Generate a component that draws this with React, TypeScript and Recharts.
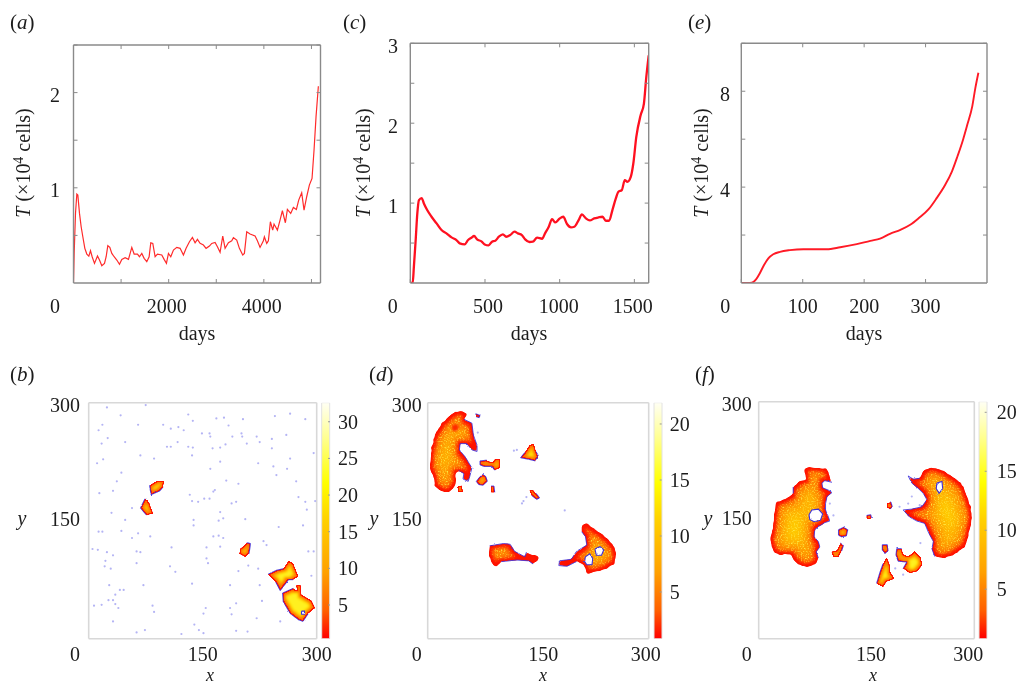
import React from "react";
import { LineChart, Line, ScatterChart, Scatter, BarChart, Bar, XAxis, YAxis } from "recharts";

// ---------- time series (days, T in 10^4 cells) ----------
const seriesA: [number, number][] = [[0,0],[14,.311],[42,.731],[70,.934],[91,.923],[126,.731],[161,.591],[196,.486],[238,.364],[280,.304],[322,.283],[357,.339],[392,.276],[441,.206],[504,.283],[546,.241],[595,.182],[651,.206],[686,.276],[721,.392],[763,.374],[805,.311],[854,.276],[910,.241],[966,.196],[1015,.248],[1085,.266],[1155,.248],[1225,.374],[1274,.304],[1344,.304],[1386,.276],[1435,.311],[1484,.259],[1540,.224],[1589,.276],[1624,.423],[1666,.416],[1715,.276],[1764,.304],[1855,.294],[1904,.248],[1953,.206],[1995,.311],[2044,.276],[2100,.346],[2170,.374],[2240,.364],[2310,.294],[2366,.364],[2436,.434],[2499,.479],[2555,.423],[2604,.458],[2660,.416],[2730,.399],[2786,.364],[2856,.388],[2905,.416],[2975,.427],[3024,.381],[3080,.322],[3136,.493],[3185,.364],[3255,.423],[3325,.444],[3360,.476],[3430,.451],[3486,.364],[3556,.294],[3591,.311],[3640,.538],[3710,.514],[3815,.493],[3864,.444],[3920,.374],[3990,.444],[4011,.486],[4060,.416],[4095,.444],[4137,.643],[4186,.556],[4214,.619],[4284,.556],[4340,.661],[4389,.759],[4452,.633],[4494,.773],[4564,.731],[4620,.794],[4683,.773],[4732,.871],[4795,.948],[4844,.766],[4900,.906],[4956,1.028],[5012,1.098],[5054,1.395],[5096,1.745],[5145,2.066]];
const seriesC: [number, number][] = [[0,0],[16,0],[24,.204],[36,.538],[47,.871],[58,1.038],[76,1.063],[91,.996],[113,.913],[142,.829],[176,.746],[209,.663],[242,.621],[276,.571],[309,.538],[331,.496],[364,.483],[387,.538],[409,.567],[427,.588],[447,.546],[476,.521],[498,.483],[524,.471],[547,.517],[569,.529],[593,.579],[620,.608],[642,.579],[669,.6],[698,.642],[720,.621],[747,.6],[769,.546],[798,.513],[820,.517],[849,.567],[882,.554],[902,.621],[927,.704],[949,.8],[971,.758],[998,.804],[1024,.829],[1049,.738],[1076,.696],[1098,.704],[1127,.788],[1149,.858],[1176,.808],[1202,.783],[1231,.808],[1260,.821],[1287,.829],[1309,.779],[1331,.779],[1353,.913],[1376,1.058],[1393,1.142],[1416,1.163],[1436,1.288],[1453,1.267],[1476,1.329],[1493,1.496],[1513,1.829],[1542,2.1],[1564,2.246],[1580,2.579],[1596,2.85]];
const seriesE: [number, number][] = [[0,0],[11,0],[17,.01],[24,.15],[30,.4],[37,.75],[44,1.03],[52,1.2],[63,1.3],[79,1.37],[101,1.41],[117,1.41],[139,1.41],[161,1.49],[188,1.62],[210,1.76],[226,1.85],[242,2.05],[259,2.22],[275,2.43],[289,2.71],[305,3.08],[318,3.54],[332,4.1],[343,4.66],[352,5.29],[361,5.98],[368,6.61],[376,7.37],[381,8.13],[386,8.77]];

const aXTicks = [0, 1000, 2000, 3000, 4000, 5000];
const aXLabels = [0, 2000, 4000];
const aYTicks = [0.5, 1, 1.5, 2, 2.5];
const aYLabels = [1, 2];
const cXTicks = [0, 500, 1000, 1500];
const cYTicks = [0.5, 1, 1.5, 2, 2.5, 3];
const cYLabels = [1, 2, 3];
const eXTicks = [0, 100, 200, 300];
const eYTicks = [2, 4, 6, 8, 10];
const eYLabels = [4, 8];
const gridTicks = [0, 150, 300];
const gridYLabels = [150, 300];
const barBTicks = [5, 10, 15, 20, 25, 30];
const barTicks = [5, 10, 15, 20];

// ---------- tumour cell map outlines, (x, y) lattice sites ----------
type P = [number, number];
const bSpot1: P[] = [[80,195],[89,200],[99,200],[98,193],[94,188],[82,183]];
const bSpot2: P[] = [[74,178],[79,175],[82,166],[85,159],[76,157],[68,166]];
const bSpot3: P[] = [[208,122],[213,121],[211,108],[206,104],[198,108],[200,115]];
const bSpot4: P[] = [[236,82],[247,87],[256,89],[263,99],[269,96],[276,79],[269,75],[263,75],[256,66],[252,61],[246,72]];
const bSpot5: P[] = [[255,58],[269,64],[274,61],[273,68],[279,68],[280,56],[293,49],[298,39],[289,32],[282,22],[276,24],[265,32],[256,47]];
const bHole1: P[] = [[280,35],[284,35],[284,31],[280,31]];
const bDots: P[] = [[24,294],[75,297],[42,284],[18,272],[13,265],[25,255],[17,248],[48,250],[65,272],[98,272],[108,267],[118,269],[125,265],[131,285],[137,277],[168,280],[178,281],[203,279],[245,283],[265,286],[285,279],[184,271],[149,261],[159,261],[160,257],[201,261],[189,257],[202,257],[221,257],[241,254],[260,259],[103,244],[108,244],[117,250],[131,244],[137,243],[163,242],[173,243],[180,247],[208,248],[225,250],[241,242],[296,236],[11,223],[19,228],[68,233],[86,229],[136,233],[160,216],[173,225],[223,223],[243,219],[261,216],[265,229],[247,208],[43,211],[37,200],[32,188],[14,185],[273,200],[181,201],[197,197],[164,187],[166,189],[133,183],[136,175],[144,174],[152,178],[159,178],[188,172],[194,174],[276,180],[285,174],[298,175],[287,164],[30,160],[57,166],[48,151],[173,161],[177,153],[171,150],[206,152],[138,151],[138,144],[282,144],[250,142],[13,136],[18,136],[43,137],[57,128],[65,134],[81,130],[164,130],[171,131],[177,128],[230,124],[234,119],[210,121],[5,114],[12,113],[24,110],[32,106],[63,111],[68,110],[109,116],[155,116],[173,117],[289,111],[296,111],[22,99],[29,89],[21,92],[63,96],[107,92],[114,85],[155,102],[157,96],[210,93],[223,89],[197,86],[293,80],[27,68],[41,62],[46,62],[35,56],[72,68],[136,70],[186,68],[225,68],[258,56],[7,42],[17,43],[26,49],[32,49],[35,44],[39,39],[84,42],[86,34],[154,39],[151,32],[186,39],[188,31],[194,45],[228,48],[32,22],[139,18],[63,8],[74,11],[122,6],[145,11],[151,7],[194,10],[209,9],[221,26],[252,22]];

const dBigLeft: P[] = [[37,288],[46,289],[54,286],[49,279],[60,274],[62,259],[67,246],[67,238],[60,240],[53,248],[44,248],[43,240],[51,231],[60,217],[57,206],[55,200],[48,203],[49,210],[42,214],[37,209],[39,200],[35,191],[28,186],[17,188],[10,193],[8,206],[3,214],[5,240],[10,261],[19,274],[28,282]];
const dRedPatch: P[] = [[33,272],[40,273],[43,268],[38,263],[33,265]];
const dBit1: P[] = [[65,286],[71,284],[70,281],[66,282]];
const dBit2: P[] = [[40,193],[46,195],[48,187],[42,186]];
const dIsle1: P[] = [[71,226],[80,227],[87,224],[91,228],[98,228],[98,217],[91,214],[87,219],[76,219],[71,221]];
const dIsle2: P[] = [[75,209],[79,206],[81,200],[75,195],[69,196],[66,200],[70,205]];
const dIsle3: P[] = [[86,194],[90,194],[91,186],[86,186]];
const dIsle4: P[] = [[138,246],[144,248],[147,238],[150,233],[146,226],[137,228],[126,230],[132,237]];
const dIsle5: P[] = [[138,189],[143,189],[147,185],[152,179],[148,177],[141,182]];
const dMiddle: P[] = [[84,118],[103,121],[112,120],[118,111],[132,104],[134,110],[140,107],[150,105],[150,100],[143,95],[137,99],[121,100],[100,98],[94,91],[88,94],[83,106]];
const dRight: P[] = [[209,144],[216,147],[225,140],[238,132],[250,121],[256,111],[254,96],[243,89],[227,85],[216,82],[212,94],[202,98],[189,92],[178,93],[179,99],[195,101],[202,111],[216,119],[214,130],[209,136]];
const dHole1: P[] = [[227,114],[234,117],[239,113],[236,106],[229,106]];
const dHole2: P[] = [[214,104],[220,108],[224,102],[223,94],[216,94],[213,98]];
const dDots: P[] = [[121,240],[117,239],[130,175],[134,180],[186,163],[128,172],[147,232],[68,262]];

const fLeft: P[] = [[63,216],[71,217],[83,216],[95,215],[98,209],[99,203],[102,198],[92,200],[88,197],[89,191],[97,188],[102,185],[95,180],[93,171],[93,163],[97,154],[99,149],[92,147],[85,143],[78,138],[77,129],[83,123],[85,116],[80,110],[83,102],[80,95],[69,91],[60,92],[51,97],[46,104],[43,108],[30,106],[21,110],[18,119],[16,127],[20,140],[21,152],[24,173],[39,177],[48,184],[48,192],[57,200],[67,201],[64,209]];
const fLeftHole: P[] = [[70,157],[74,163],[83,164],[89,158],[86,150],[77,148],[71,151]];
const fRight: P[] = [[229,213],[241,217],[257,213],[268,206],[282,197],[289,182],[296,163],[296,148],[292,131],[287,116],[271,106],[257,102],[245,104],[241,114],[243,123],[236,135],[231,146],[220,149],[210,154],[201,163],[213,164],[227,167],[234,176],[229,184],[220,192],[213,197],[208,206],[215,202],[224,203]];
const fRightHole: P[] = [[248,197],[255,199],[256,190],[251,184],[247,190]];
const fSpot1: P[] = [[178,171],[184,173],[186,167],[183,164],[178,166]];
const fSpot2: P[] = [[150,156],[156,157],[157,153],[154,151],[150,152]];
const fRing: P[] = [[111,138],[118,141],[124,138],[122,130],[115,129],[111,131]];
const fSpot3: P[] = [[114,121],[118,118],[115,110],[111,103],[104,103],[101,110],[109,112]];
const fSpot4: P[] = [[172,119],[179,119],[180,111],[176,108],[172,112]];
const fSpike: P[] = [[178,103],[182,95],[183,85],[189,76],[178,72],[173,65],[164,70],[169,85],[173,95]];
const fPair: P[] = [[192,114],[199,114],[201,107],[208,104],[217,111],[225,104],[228,93],[220,85],[210,83],[201,89],[206,97],[194,98],[191,106]];
const fDots: P[] = [[99,171],[104,156],[208,171],[213,180],[190,89],[196,106],[201,81],[224,169],[196,167],[225,121]];

const pts = (list: P[]) => list.map(([x, y]) => ({ x, y }));
const closed = (list: P[]) => pts([...list, list[0]]);

const SERIF = "'Liberation Serif', 'Times New Roman', serif";
const INK = "#1c1c1c";
const NoDot = () => <g />;
const Speck = ({ cx, cy }: any) => <circle cx={cx} cy={cy} r={1.1} fill="#b4b4f4" />;

type TickProps = any;
const makeTick = (side: "bottom" | "top" | "left" | "right", labels: number[], at: Record<number, number>, opts: { len?: number; base?: number; lx?: number; color?: string; dy?: Record<number, number> } = {}) =>
  ({ x, y, payload }: TickProps) => {
    const v = payload.value;
    const len = opts.len ?? 4;
    const c = opts.color ?? "#8a8a8a";
    const line = len === 0 ? null
      : side === "bottom" ? <line x1={x} x2={x} y1={y} y2={y - len} stroke={c} />
      : side === "top" ? <line x1={x} x2={x} y1={y} y2={y + len} stroke={c} />
      : side === "left" ? <line x1={x} x2={x + len} y1={y} y2={y} stroke={c} />
      : <line x1={x} x2={x - len} y1={y} y2={y} stroke={c} />;
    let label = null;
    if (labels.includes(v)) {
      if (side === "bottom") {
        label = <text x={x + (at[v] ?? 0)} y={y + (opts.base ?? 29.5)} textAnchor="middle" fontFamily={SERIF} fontSize={20} fill={INK}>{v}</text>;
      } else if (side === "left") {
        label = <text x={opts.lx} y={y + (opts.dy?.[v] ?? 9.5)} textAnchor="middle" fontFamily={SERIF} fontSize={20} fill={INK}>{v}</text>;
      } else if (side === "right") {
        label = <text x={x + (opts.lx ?? 8)} y={y + (opts.dy?.[v] ?? 7)} textAnchor="start" fontFamily={SERIF} fontSize={20} fill={INK}>{v}</text>;
      }
    }
    return <g>{line}{label}</g>;
  };

const Letter = ({ x, y, ch }: { x: number; y: number; ch: string }) => (
  <text x={x} y={y} fontFamily={SERIF} fontSize={21} fill={INK}>(<tspan fontStyle="italic">{ch}</tspan>)</text>
);
const YTitle = ({ x, y }: { x: number; y: number }) => (
  <text x={x} y={y} transform={`rotate(-90 ${x} ${y})`} textAnchor="middle" fontFamily={SERIF} fontSize={20} fill={INK}>
    <tspan fontStyle="italic">T</tspan> (×10<tspan dy={-7} fontSize={14}>4</tspan><tspan dy={7}> cells)</tspan>
  </text>
);
const Plain = ({ x, y, children, italic, size }: any) => (
  <text x={x} y={y} textAnchor="middle" fontFamily={SERIF} fontSize={size ?? 20} fontStyle={italic ? "italic" : "normal"} fill={INK}>{children}</text>
);

const W = 1020, H = 685;
const boxStyle: React.CSSProperties = { position: "absolute", left: 0, top: 0 };
// Every axis takes 1px of the chart, so each margin gives that pixel back.
const marginFor = (p: any) => ({ left: p.l - 1, top: p.t - 1, right: W - p.r - 1, bottom: H - p.b - 1 });

function TimePanel(p: any) {
  const data = p.series.map(([day, value]: number[]) => ({ day, value }));
  const line = { stroke: "#8a8a8a", strokeWidth: 1.4 };
  return (
    <div style={boxStyle}>
      <LineChart width={W} height={H} data={data} margin={marginFor(p)} style={{ position: "absolute" }}>
        <XAxis dataKey="day" type="number" domain={p.xDomain} ticks={p.xTicks} interval={0} height={1} tickSize={0} tickMargin={0} tickLine={false} allowDataOverflow axisLine={line} tick={makeTick("bottom", p.xLabels, p.xNudge)} />
        <XAxis xAxisId="top" orientation="top" dataKey="day" type="number" domain={p.xDomain} ticks={p.xTicks} interval={0} height={1} tickSize={0} tickMargin={0} tickLine={false} allowDataOverflow axisLine={line} tick={makeTick("top", [], {})} />
        <YAxis type="number" domain={p.yDomain} ticks={p.yTicks} interval={0} width={1} tickSize={0} tickMargin={0} tickLine={false} allowDataOverflow axisLine={line} tick={makeTick("left", p.yLabels, {}, { lx: p.lx })} />
        <YAxis yAxisId="right" orientation="right" type="number" domain={p.yDomain} ticks={p.yTicks} interval={0} width={1} tickSize={0} tickMargin={0} tickLine={false} allowDataOverflow axisLine={line} tick={makeTick("right", [], {})} />
        <Line dataKey="value" type={p.curve} stroke={p.color} strokeWidth={p.sw} dot={false} isAnimationActive={false} />
        <Letter x={p.letter[0]} y={p.letter[1]} ch={p.letter[2]} />
        <YTitle x={p.titleX} y={163} />
        <Plain x={p.daysX} y={340}>days</Plain>
      </LineChart>
    </div>
  );
}

function Heat({ list, big }: { list: P[]; big?: boolean }) {
  const f = big ? "url(#heatL)" : "url(#heatS)";
  return <Scatter data={pts(list)} dataKey="y" shape={NoDot} isAnimationActive={false} line={{ fill: "#f00", stroke: "none", style: { filter: f } } as any} />;
}
function Hole({ list }: { list: P[] }) {
  return <Scatter data={closed(list)} dataKey="y" shape={NoDot} isAnimationActive={false} line={{ fill: "#fff", stroke: "#3d30da", strokeWidth: 1.1, style: { filter: "url(#roughEdge)" } } as any} />;
}
function Edge({ list }: { list: P[] }) {
  return <Scatter data={pts(list)} dataKey="y" shape={NoDot} isAnimationActive={false} line={{ fill: "none", stroke: "#3d30da", strokeWidth: 1, strokeOpacity: 0.85, style: { filter: "url(#roughEdge)" } } as any} />;
}

function MapPanel(p: any) {
  const frame = { stroke: "#d8d8d8", strokeWidth: 1.6 };
  const ax = { type: "number" as const, domain: [0, 300], ticks: gridTicks, interval: 0, tickSize: 0, tickMargin: 0, tickLine: false, allowDataOverflow: true, axisLine: frame };
  return (
    <div style={boxStyle}>
      <ScatterChart width={W} height={H} margin={marginFor(p)} style={{ position: "absolute" }}>
        <XAxis {...ax} dataKey="x" height={1} tick={makeTick("bottom", gridTicks, p.xNudge, { len: 0, base: 22 })} />
        <XAxis {...ax} xAxisId="top" orientation="top" dataKey="x" height={1} tick={false} />
        <YAxis {...ax} dataKey="y" width={1} tick={makeTick("left", gridYLabels, {}, { len: 0, lx: p.lx, dy: { 300: 9, 150: 5 } })} />
        <YAxis {...ax} yAxisId="right" orientation="right" dataKey="y" width={1} tick={false} />
        <Scatter data={pts(p.dots)} dataKey="y" shape={Speck} isAnimationActive={false} />
        {p.children}
        <Letter x={p.letter[0]} y={p.letter[1]} ch={p.letter[2]} />
        <Plain x={p.yX} y={525} italic>y</Plain>
        <Plain x={p.xX} y={681} italic size={18}>x</Plain>
      </ScatterChart>
    </div>
  );
}

function ColorBar(p: any) {
  const data = [{ name: "T", range: p.domain }];
  return (
    <div style={boxStyle}>
      <BarChart width={W} height={H} data={data} barCategoryGap={0} margin={{ left: p.l, top: p.t, right: W - p.r - 1, bottom: H - p.b }} style={{ position: "absolute" }}>
        <XAxis dataKey="name" hide />
        <YAxis orientation="right" type="number" domain={p.domain} ticks={p.ticks} interval={0} width={1} tickSize={0} tickMargin={0} tickLine={false} axisLine={false} allowDataOverflow tick={makeTick("right", p.ticks, {}, { len: 2, lx: p.lx, color: "#999" })} />
        <Bar dataKey="range" fill="url(#cbar)" stroke="#e2e2e2" isAnimationActive={false} />
      </BarChart>
    </div>
  );
}

const heatLarge: [number, number, string][] = [[2.5, 1.6, "#ff6400"], [5, 2.5, "#ff9000"], [9, 3, "#ffb000"], [15, 4, "#ffd000"], [24, 5, "#ffe840"]];
const heatSmall: [number, number, string][] = [[0.8, 0.6, "#ff7000"], [1.6, 0.8, "#ffa800"], [2.6, 0.8, "#ffd800"], [4, 1, "#fff020"]];

function HeatFilter({ id, levels, scale, soft, speckle }: { id: string; levels: [number, number, string][]; scale: number; soft: number; speckle?: boolean }) {
  return (
    <filter id={id} x="-40%" y="-40%" width="180%" height="180%" colorInterpolationFilters="sRGB">
      <feTurbulence type="fractalNoise" baseFrequency={0.7} numOctaves={2} seed={3} result="n" />
      <feDisplacementMap in="SourceAlpha" in2="n" scale={scale} xChannelSelector="R" yChannelSelector="G" result="disp" />
      <feGaussianBlur in="disp" stdDeviation={soft} result="soft" />
      <feComponentTransfer in="soft" result="rough"><feFuncA type="linear" slope={4} intercept={-1.5} /></feComponentTransfer>
      <feGaussianBlur in="rough" stdDeviation={0.4} result="a0" />
      <feFlood floodColor="#ff1200" result="f0" />
      <feComposite in="f0" in2="a0" operator="in" result="c0" />
      {levels.map(([r, s, col], i) => (
        <React.Fragment key={i}>
          <feMorphology in="rough" operator="erode" radius={r} result={`e${i}`} />
          <feGaussianBlur in={`e${i}`} stdDeviation={s} result={`b${i}`} />
          <feFlood floodColor={col} result={`f${i + 1}`} />
          <feComposite in={`f${i + 1}`} in2={`b${i}`} operator="in" result={`c${i + 1}`} />
        </React.Fragment>
      ))}
      {speckle ? <feColorMatrix in="n" type="matrix" values="0 0 0 0 1  0 0 0 0 0.9  0 0 0 0 0.25  3 0 0 0 -1.5" result="sp" /> : null}
      {speckle ? <feComposite in="sp" in2="b0" operator="in" result="spk" /> : null}
      <feMerge>
        <feMergeNode in="c0" />
        {levels.map((_, i) => <feMergeNode key={i} in={`c${i + 1}`} />)}
        {speckle ? <feMergeNode in="spk" /> : null}
      </feMerge>
    </filter>
  );
}

export default function App() {
  return (
    <div style={{ position: "fixed", left: 0, top: 0, width: W, height: H, overflow: "hidden", background: "#fff", filter: "blur(0.35px)" }}>
      <svg width={0} height={0} style={{ position: "absolute" }}>
        <defs>
          <linearGradient id="cbar" x1="0" y1="1" x2="0" y2="0">
            <stop offset="0" stopColor="#ff0000" />
            <stop offset="0.12" stopColor="#ff6000" />
            <stop offset="0.28" stopColor="#ffa000" />
            <stop offset="0.5" stopColor="#ffd000" />
            <stop offset="0.66" stopColor="#ffff00" />
            <stop offset="0.85" stopColor="#ffff90" />
            <stop offset="1" stopColor="#fffff4" />
          </linearGradient>
          <HeatFilter id="heatL" levels={heatLarge} scale={3.5} soft={1} speckle />
          <HeatFilter id="heatS" levels={heatSmall} scale={1.5} soft={0.5} />
          <filter id="roughEdge" filterUnits="userSpaceOnUse" x={0} y={0} width={W} height={H} colorInterpolationFilters="sRGB">
            <feTurbulence type="fractalNoise" baseFrequency={0.7} numOctaves={2} seed={3} result="n" />
            <feDisplacementMap in="SourceGraphic" in2="n" scale={2} xChannelSelector="R" yChannelSelector="G" result="d" />
            <feGaussianBlur in="d" stdDeviation={0.35} />
          </filter>
        </defs>
      </svg>

      <TimePanel series={seriesA} l={73.5} r={320.5} t={45} b={283} xDomain={[0, 5190]} yDomain={[0, 2.5]} xTicks={aXTicks} xLabels={aXLabels} yTicks={aYTicks} yLabels={aYLabels} xNudge={{ 0: -18.5, 2000: -2, 4000: -2 }} lx={55} color="#ff2b2b" sw={1.2} curve="linear" letter={[10, 29, "a"]} titleX={30} daysX={197} />
      <TimePanel series={seriesC} l={410.3} r={648.7} t={43.3} b={283} xDomain={[0, 1596]} yDomain={[0, 3]} xTicks={cXTicks} xLabels={cXTicks} yTicks={cYTicks} yLabels={cYLabels} xNudge={{ 0: -17.6, 500: 3, 1000: -1, 1500: -1.5 }} lx={393} color="#ff1020" sw={2.3} curve="monotone" letter={[343, 29, "c"]} titleX={370} daysX={529} />
      <TimePanel series={seriesE} l={741.3} r={987} t={43.3} b={283} xDomain={[0, 400]} yDomain={[0, 10]} xTicks={eXTicks} xLabels={eXTicks} yTicks={eYTicks} yLabels={eYLabels} xNudge={{ 0: -16 }} lx={725} color="#ff1a26" sw={1.9} curve="monotone" letter={[688, 29, "e"]} titleX={708} daysX={864} />

      <MapPanel l={88.7} r={316.7} t={402.7} b={638.7} dots={bDots} xNudge={{ 0: -13.7 }} lx={65} letter={[10, 381, "b"]} yX={22} xX={210}>
        <Heat list={bSpot1} /><Edge list={bSpot1.slice(3).concat(bSpot1.slice(0, 1))} />
        <Heat list={bSpot2} /><Edge list={bSpot2.slice(4).concat(bSpot2.slice(0, 1))} />
        <Heat list={bSpot3} /><Edge list={bSpot3.slice(0, 3)} />
        <Heat list={bSpot4} /><Edge list={bSpot4.slice(6)} /><Edge list={bSpot4.slice(0, 3)} />
        <Heat list={bSpot5} /><Edge list={bSpot5.slice(8).concat(bSpot5.slice(0, 2))} />
        <Hole list={bHole1} />
      </MapPanel>
      <ColorBar l={321.7} r={330} t={402.7} b={638.7} domain={[0.4, 32.6]} ticks={barBTicks} lx={8} />

      <MapPanel l={427.7} r={648.7} t={402.7} b={638.7} dots={dDots} xNudge={{ 0: -11, 150: 5, 300: -3 }} lx={406.7} letter={[369, 381, "d"]} yX={374} xX={543}>
        <Heat list={dBigLeft} big />
        <Scatter data={pts(dRedPatch)} dataKey="y" shape={NoDot} isAnimationActive={false} line={{ fill: "#ff2a00", stroke: "none", style: { filter: "blur(1px)" } } as any} />
        <Edge list={dBigLeft.slice(3, 19)} />
        <Heat list={dBit1} /><Heat list={dBit2} /><Edge list={dBit1} />
        <Heat list={dIsle1} /><Edge list={dIsle1.slice(6).concat(dIsle1.slice(0, 2))} />
        <Heat list={dIsle2} /><Edge list={[...dIsle2, dIsle2[0]]} />
        <Heat list={dIsle3} /><Edge list={dIsle3.slice(0, 3)} />
        <Heat list={dIsle4} /><Edge list={dIsle4.slice(2, 8)} />
        <Heat list={dIsle5} /><Edge list={dIsle5.slice(2, 6)} />
        <Heat list={dMiddle} big /><Edge list={dMiddle.slice(0, 6)} /><Edge list={dMiddle.slice(9, 13)} />
        <Heat list={dRight} big /><Edge list={dRight.slice(11, 20)} />
        <Hole list={dHole1} /><Hole list={dHole2} />
      </MapPanel>
      <ColorBar l={654} r={661.7} t={402.7} b={638.7} domain={[0.83, 21.9]} ticks={barTicks} lx={8} />

      <MapPanel l={758.7} r={974.3} t={401.7} b={638.7} dots={fDots} xNudge={{ 0: -12, 150: 4.5, 300: -6 }} lx={736.7} letter={[695, 381, "f"]} yX={708} xX={873}>
        <Heat list={fLeft} big /><Edge list={fLeft.slice(6, 25)} /><Edge list={fLeft.slice(39, 41)} />
        <Heat list={fRight} big /><Edge list={fRight.slice(12, 29)} />
        <Hole list={fLeftHole} /><Hole list={fRightHole} />
        <Heat list={fSpot1} /><Edge list={fSpot1.slice(1, 4)} />
        <Heat list={fSpot2} /><Edge list={fSpot2.slice(0, 3)} />
        <Heat list={fRing} /><Edge list={[...fRing, fRing[0]]} />
        <Heat list={fSpot3} /><Edge list={fSpot3.slice(0, 3)} />
        <Heat list={fSpot4} /><Edge list={[...fSpot4, fSpot4[0]]} />
        <Heat list={fSpike} /><Edge list={fSpike.slice(6)} />
        <Heat list={fPair} /><Edge list={fPair.slice(9).concat(fPair.slice(0, 2))} />
      </MapPanel>
      <ColorBar l={979} r={986.7} t={401.7} b={638.7} domain={[0.8, 20.9]} ticks={barTicks} lx={10} />
    </div>
  );
}
